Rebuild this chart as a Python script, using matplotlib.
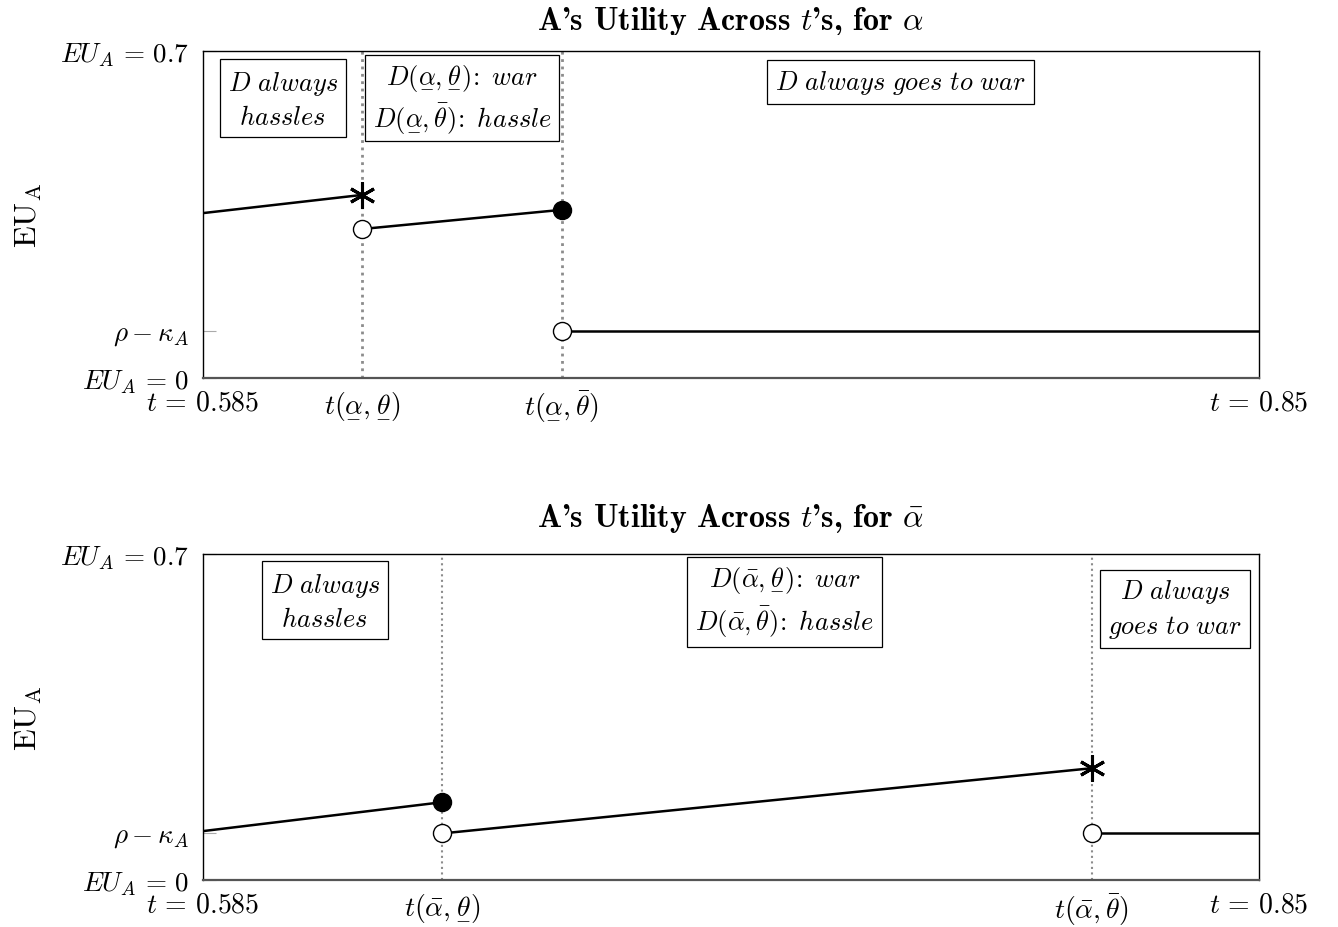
import matplotlib
matplotlib.use("Agg")
import matplotlib.pyplot as plt

plt.rcParams['mathtext.fontset'] = 'cm'
plt.rcParams['font.family'] = 'serif'
plt.rcParams['font.serif'] = ['cmr10']
plt.rcParams['axes.formatter.use_mathtext'] = True

# mathtext has no \underline, so put a small rule under the symbol
AL = r'\underset{-}{\alpha}'
TH = r'\underset{-}{\theta}'

# axis range
t_min, t_max = 0.585, 0.85
eu_min, eu_max = 0.0, 0.7
rho_kappa = 0.1

# panel 1: alpha underline
top_cuts = [0.625, 0.675]
top_seg1_t = [0.585, 0.625]
top_seg1_u = [0.353, 0.392]
top_seg2_t = [0.625, 0.675]
top_seg2_u = [0.319, 0.360]
top_seg3_t = [0.675, 0.85]
top_seg3_u = [0.1, 0.1]
top_xlabels = [r'$t\,=\,0.585$', r'$t(%s,%s)$' % (AL, TH),
               r'$t(%s,\bar{\theta})$' % AL, r'$t\,=\,0.85$']

# panel 2: alpha bar
bot_cuts = [0.645, 0.808]
bot_seg1_t = [0.585, 0.645]
bot_seg1_u = [0.105, 0.167]
bot_seg2_t = [0.645, 0.808]
bot_seg2_u = [0.1, 0.240]
bot_seg3_t = [0.808, 0.85]
bot_seg3_u = [0.1, 0.1]
bot_xlabels = [r'$t\,=\,0.585$', r'$t(\bar{\alpha},%s)$' % TH,
               r'$t(\bar{\alpha},\bar{\theta})$', r'$t\,=\,0.85$']

ylabels = [r'$EU_A\,=\,0$', r'$\rho - \kappa_A$', r'$EU_A\,=\,0.7$']

fig = plt.figure(figsize=(13.38, 9.28), dpi=100)
ax1 = fig.add_axes([203/1338, 1 - 379/928, 1056/1338, 327/928])
ax2 = fig.add_axes([203/1338, 1 - 881/928, 1056/1338, 326/928])

asterisk = (6, 2, 0)


def setup(ax, cuts, xlabels, title, cut_lw, title_pad):
    ax.set_xlim(t_min, t_max)
    ax.set_ylim(eu_min, eu_max)
    for c in cuts:
        ax.axvline(c, color='#8c8c8c', linestyle=':', linewidth=cut_lw, zorder=1)
    ax.set_xticks([t_min] + cuts + [t_max])
    ax.set_xticklabels(xlabels, fontsize=20)
    ax.set_yticks([eu_min, rho_kappa, eu_max])
    ax.set_yticklabels(ylabels, fontsize=19.5)
    ax.tick_params(axis='both', direction='in', length=9, color='#aaaaaa', width=0.8)
    ax.tick_params(axis='x', length=0, pad=8)
    ax.tick_params(axis='y', pad=10)
    ax.set_ylabel(r'$\mathrm{EU}_\mathrm{A}$', fontsize=23)
    ax.yaxis.set_label_coords(-0.151, 0.5)
    ax.set_title(title, fontsize=23, family='cmb10', pad=title_pad)
    for s in ax.spines.values():
        s.set_linewidth(1.0)
    ax.spines['bottom'].set_color('#555555')
    ax.spines['bottom'].set_linewidth(1.6)


def label_box(ax, x, y, txt):
    ax.text(x, y, txt, ha='center', va='center', fontsize=19, linespacing=1.4,
            bbox=dict(boxstyle='square,pad=0.3', facecolor='white', edgecolor='black', linewidth=0.9),
            zorder=5)


line_kw = dict(color='black', linewidth=1.8, zorder=3)
open_kw = dict(marker='o', markersize=13, markerfacecolor='white', markeredgecolor='black',
               markeredgewidth=1.0, linestyle='none', zorder=4)
fill_kw = dict(marker='o', markersize=13, markerfacecolor='black', markeredgecolor='black',
               linestyle='none', zorder=4)
star_kw = dict(marker=asterisk, markersize=19, markeredgecolor='black', markeredgewidth=2.2,
               linestyle='none', zorder=4)

# top panel
setup(ax1, top_cuts, top_xlabels, r"A's Utility Across $t$'s, for $%s$" % AL, 2.0, 19)
ax1.plot(top_seg1_t, top_seg1_u, **line_kw)
ax1.plot(top_seg2_t, top_seg2_u, **line_kw)
ax1.plot(top_seg3_t, top_seg3_u, **line_kw)
ax1.plot(top_seg1_t[-1], top_seg1_u[-1], **star_kw)
ax1.plot(top_seg2_t[0], top_seg2_u[0], **open_kw)
ax1.plot(top_seg2_t[-1], top_seg2_u[-1], **fill_kw)
ax1.plot(top_seg3_t[0], top_seg3_u[0], **open_kw)
label_box(ax1, 0.605, 0.597, r'$D\ always$' + '\n' + r'$hassles$')
label_box(ax1, 0.650, 0.600, r'$D(%s,%s)\!:\ war$' % (AL, TH) + '\n'
          + r'$D(%s,\bar{\theta})\!:\ hassle$' % AL)
label_box(ax1, 0.760, 0.634, r'$D\ always\ goes\ to\ war$')

# bottom panel
setup(ax2, bot_cuts, bot_xlabels, r"A's Utility Across $t$'s, for $\bar{\alpha}$", 1.5, 20)
ax2.plot(bot_seg1_t, bot_seg1_u, **line_kw)
ax2.plot(bot_seg2_t, bot_seg2_u, **line_kw)
ax2.plot(bot_seg3_t, bot_seg3_u, **line_kw)
ax2.plot(bot_seg1_t[-1], bot_seg1_u[-1], **fill_kw)
ax2.plot(bot_seg2_t[0], bot_seg2_u[0], **open_kw)
ax2.plot(bot_seg2_t[-1], bot_seg2_u[-1], **star_kw)
ax2.plot(bot_seg3_t[0], bot_seg3_u[0], **open_kw)
label_box(ax2, 0.6156, 0.599, r'$D\ always$' + '\n' + r'$hassles$')
label_box(ax2, 0.731, 0.597, r'$D(\bar{\alpha},%s)\!:\ war$' % TH + '\n'
          + r'$D(\bar{\alpha},\bar{\theta})\!:\ hassle$')
label_box(ax2, 0.829, 0.582, r'$D\ always$' + '\n' + r'$goes\ to\ war$')

fig.savefig('out.png', dpi=100)
